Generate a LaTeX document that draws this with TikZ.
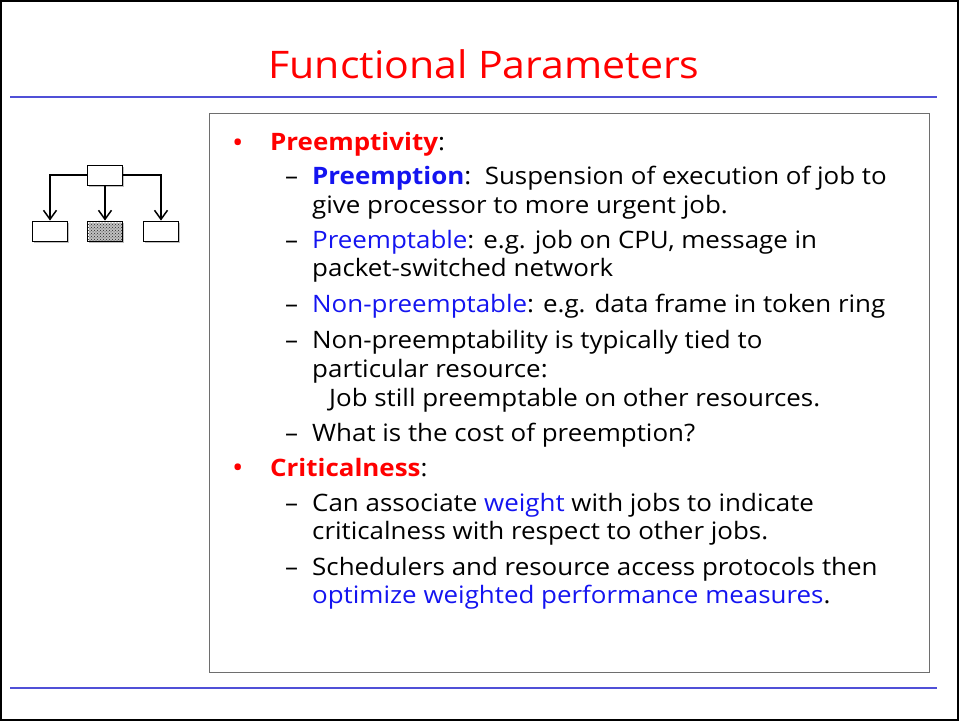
\documentclass[tikz,border=0pt]{standalone}
\usepackage{fontspec}
\setmainfont{Open Sans}[FakeStretch=1.08]
\usetikzlibrary{arrows.meta,patterns}
\definecolor{rulecol}{RGB}{80,80,215}
\definecolor{hred}{RGB}{255,0,0}
\definecolor{hblue}{RGB}{20,20,240}
\definecolor{framegray}{RGB}{110,110,110}
\begin{document}
\begin{tikzpicture}[x=1pt,y=-1pt,
  txt/.style={anchor=base west,inner sep=0pt,font=\fontsize{24}{28}\selectfont},
  dashmark/.style={anchor=base west,inner sep=0pt,font=\fontsize{24}{28}\selectfont},
  bulletmark/.style={anchor=base west,inner sep=0pt,text=hred,font=\fontsize{28}{28}\selectfont},
  iconbox/.style={draw,line width=0.9pt,fill=white,minimum width=35pt,minimum height=20pt,inner sep=0pt},
  boxshadow/.style={fill=black!25,draw=none,minimum width=35pt,minimum height=20pt,inner sep=0pt},
  link/.style={line width=1.5pt,-{Straight Barb[length=9pt,width=13pt,line width=1.5pt]}}]
  \useasboundingbox (0,0) rectangle (959,721);
  % page frame and rules
  \draw[line width=1.6pt] (1,1) rectangle (958,720);
  \draw[rulecol,line width=2pt] (10,97) -- (937,97);
  \draw[rulecol,line width=2pt] (10,688) -- (937,688);
  % title
  \node[anchor=base,inner sep=0pt,text=hred,font=\fontsize{38}{42}\selectfont] (title) at (484,78) {Functional Parameters};
  % content frame
  \draw[framegray,line width=1pt] (209,113) rectangle (929,672);
  % hierarchy icon (soft shadows first, then the boxes)
  \foreach \px/\py in {105/175,50/231,105/231,161/231}
    \node[boxshadow] at (\px+1.5,\py+1.5) {};
  \node[iconbox] (top) at (105,175) {};
  \node[iconbox] (b1) at (50,231) {};
  \node[iconbox,pattern=crosshatch dots,pattern color=black!85] (b2) at (105,231) {};
  \node[iconbox] (b3) at (161,231) {};
  \draw[link] (top.west) -| (b1.north);
  \draw[link] (top.south) -- (b2.north);
  \draw[link] (top.east) -| (b3.north);
  % bullet list
  \node[bulletmark] (d1) at (232,152) {•};
  \node[txt] (l1) at (270,150) {\textcolor{hred}{\textbf{Preemptivity}}:};
  \node[dashmark] (m1) at (285,184) {–};
  \node[txt] (l2) at (312,184) {\textcolor{hblue}{\textbf{Preemption}}:\ \ Suspension of execution of job to};
  \node[txt] (l3) at (312,213) {give processor to more urgent job.};
  \node[dashmark] (m2) at (285,248) {–};
  \node[txt] (l4) at (312,248) {\textcolor{hblue}{Preemptable}: e.g. job on CPU, message in};
  \node[txt] (l5) at (312,276) {packet-switched network};
  \node[dashmark] (m3) at (285,312) {–};
  \node[txt] (l6) at (312,312) {\textcolor{hblue}{Non-preemptable}: e.g. data frame in token ring};
  \node[dashmark] (m4) at (285,348) {–};
  \node[txt] (l7) at (312,348) {Non-preemptability is typically tied to};
  \node[txt] (l8) at (312,377) {particular resource:};
  \node[txt] (l9) at (329,406) {Job still preemptable on other resources.};
  \node[dashmark] (m5) at (285,441) {–};
  \node[txt] (l10) at (312,441) {What is the cost of preemption?};
  \node[bulletmark] (d2) at (232,477) {•};
  \node[txt] (l11) at (270,476) {\textcolor{hred}{\textbf{Criticalness}}:};
  \node[dashmark] (m6) at (285,511) {–};
  \node[txt] (l12) at (312,511) {Can associate \textcolor{hblue}{weight} with jobs to indicate};
  \node[txt] (l13) at (312,539) {criticalness with respect to other jobs.};
  \node[dashmark] (m7) at (285,575) {–};
  \node[txt] (l14) at (312,575) {Schedulers and resource access protocols then};
  \node[txt] (l15) at (312,603) {\textcolor{hblue}{optimize weighted performance measures}.};
\end{tikzpicture}
\end{document}
